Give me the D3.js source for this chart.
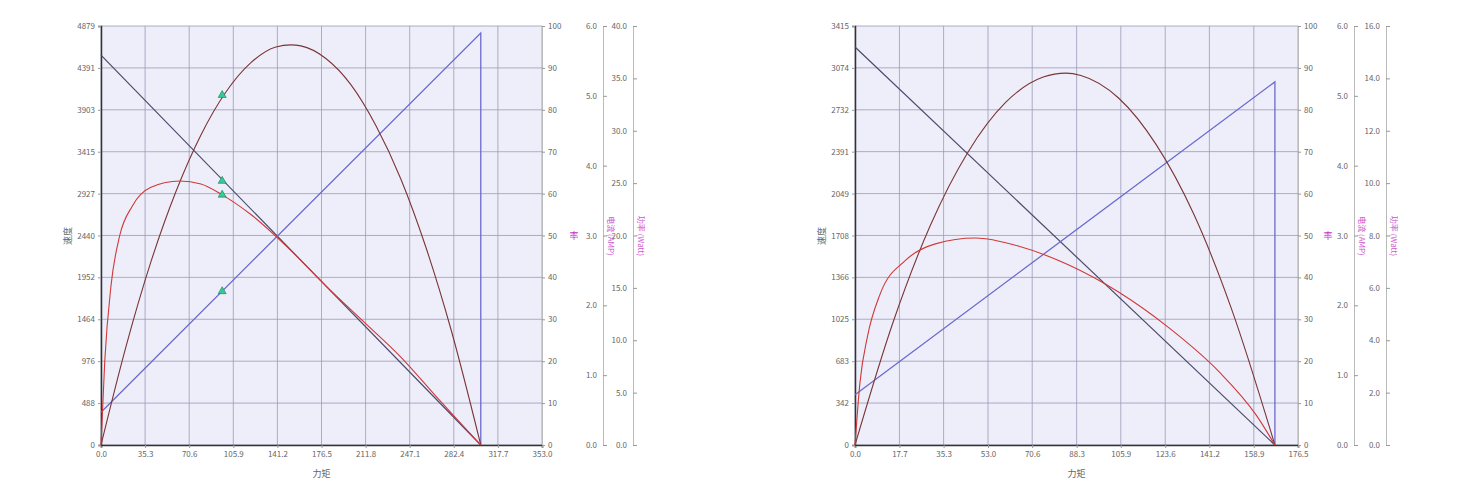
<!DOCTYPE html><html><head><meta charset="utf-8"><script src="https://cdn.jsdelivr.net/npm/d3@7"></script>
<style>body{margin:0;background:#fff}svg text{font-family:"Noto Sans CJK SC",sans-serif}</style></head><body><svg id="c" width="1476" height="492"></svg>
<script>
// Chart A
const aXTicks=["0.0","35.3","70.6","105.9","141.2","176.5","211.8","247.1","282.4","317.7","353.0"];
const aYTicks=[0,488,976,1464,1952,2440,2927,3415,3903,4391,4879];
const aSpeed=[[0,4540],[304,0]];
const aCurrent=[[0,0.47],[304,5.9],[304,0]];
const aPower=[[0,0],[20,9.4],[40,17.5],[60,24.2],[80,29.6],[100,33.7],[120,36.5],[140,38.0],[152,38.2],[160,38.1],[180,36.9],[200,34.4],[220,30.5],[240,25.4],[260,18.9],[280,11.1],[304,0]];
const aEff=[[0,0],[3,20],[8,38],[15,50],[25,57],[40,61.5],[63,63],[80,62.3],[97,59.7],[120,55],[150,47],[180,38],[210,29.5],[240,21],[270,11],[290,4.5],[304,0]];
const aMarkers={t:97,speed:3074,eff:59.7,power:33.4,current:2.2};
const aCurTicks=["0.0","1.0","2.0","3.0","4.0","5.0","6.0"];
const aPowTicks=["0.0","5.0","10.0","15.0","20.0","25.0","30.0","35.0","40.0"];
// Chart B
const bXTicks=["0.0","17.7","35.3","53.0","70.6","88.3","105.9","123.6","141.2","158.9","176.5"];
const bYTicks=[0,342,683,1025,1366,1708,2049,2391,2732,3074,3415];
const bSpeed=[[0,3244],[167.3,0]];
const bCurrent=[[0,0.72],[167.3,5.2],[167.3,0]];
const bPower=[[0,0],[15,4.64],[30,8.38],[45,11.18],[60,13.08],[75,14.05],[84,14.2],[90,14.11],[105,13.25],[120,11.47],[135,8.81],[150,5.2],[167.3,0]];
const bEff=[[0,0],[2,15],[5,26],[10,36],[20,44],[32,48],[48,49.4],[65,47.5],[85,43],[105,36.5],[125,28],[145,17.5],[160,7],[167.3,0]];
const bCurTicks=["0.0","1.0","2.0","3.0","4.0","5.0","6.0"];
const bPowTicks=["0.0","2.0","4.0","6.0","8.0","10.0","12.0","14.0","16.0"];
const effTicks=[0,10,20,30,40,50,60,70,80,90,100];

const svg=d3.select("#c");
function chart(o){
  const g=svg.append("g");
  const x=d3.scaleLinear().domain([0,+o.xt[o.xt.length-1]]).range([o.x0,o.x1]);
  const y=d3.scaleLinear().domain([0,o.yt[o.yt.length-1]]).range([445,26]);
  const ye=d3.scaleLinear().domain([0,100]).range([445,26]);
  const yc=d3.scaleLinear().domain([0,6]).range([445,26]);
  const yp=d3.scaleLinear().domain([0,+o.pt[o.pt.length-1]]).range([445,26]);
  g.append("rect").attr("x",o.x0).attr("y",26).attr("width",o.x1-o.x0).attr("height",419).attr("fill","#eeeefa");
  o.xt.forEach(t=>g.append("line").attr("x1",x(+t)).attr("x2",x(+t)).attr("y1",26).attr("y2",445).attr("stroke","#9a9ab8").attr("stroke-width",0.8));
  o.yt.forEach(t=>g.append("line").attr("x1",o.x0).attr("x2",o.x1).attr("y1",y(t)).attr("y2",y(t)).attr("stroke","#9a9ab8").attr("stroke-width",0.8));
  const fs="8px",tc="#666";
  const ax=g.append("g").attr("transform","translate(0,445)").call(d3.axisBottom(x).tickValues(o.xt.map(Number)).tickFormat((d,i)=>o.xt[i]).tickSize(3));
  const ay=g.append("g").attr("transform",`translate(${o.x0},0)`).call(d3.axisLeft(y).tickValues(o.yt).tickFormat(d3.format("d")).tickSize(3));
  const ae=g.append("g").attr("transform",`translate(${o.x1},0)`).call(d3.axisRight(ye).tickValues(effTicks).tickSize(3));
  const ac=g.append("g").attr("transform",`translate(${o.cx},0)`).call(d3.axisLeft(yc).tickValues(o.ct.map(Number)).tickFormat((d,i)=>o.ct[i]).tickSize(-4));
  const ap=g.append("g").attr("transform",`translate(${o.px},0)`).call(d3.axisLeft(yp).tickValues(o.pt.map(Number)).tickFormat((d,i)=>o.pt[i]).tickSize(-4));
  [ax,ay,ae,ac,ap].forEach(a=>{a.selectAll("text").attr("font-size",fs).attr("fill",tc);a.selectAll("line").attr("stroke","#999");a.select(".domain").attr("stroke","#bbb");});
  ax.select(".domain").attr("stroke","#333").attr("stroke-width",1.5);ay.select(".domain").attr("stroke","#333").attr("stroke-width",1.5);
  ac.selectAll("text").attr("x",-6);ap.selectAll("text").attr("x",-6);
  g.append("text").attr("x",(o.x0+o.x1)/2).attr("y",477).attr("text-anchor","middle").attr("font-size","9px").attr("fill",tc).text("力矩");
  g.append("text").attr("transform",`translate(${o.x0-30},236) rotate(-90)`).attr("text-anchor","middle").attr("font-size","9px").attr("fill",tc).text("速度");
  g.append("text").attr("x",o.ex).attr("y",239).attr("text-anchor","middle").attr("font-size","9px").attr("fill","#cc33cc").text("率");
  g.append("text").attr("transform",`translate(${o.cx+5},236) rotate(90)`).attr("text-anchor","middle").attr("font-size","8px").attr("fill","#cc55cc").text("电流 (AMP)");
  g.append("text").attr("transform",`translate(${o.px+5},236) rotate(90)`).attr("text-anchor","middle").attr("font-size","8px").attr("fill","#cc55cc").text("功率 (Watt)");
  const ln=(sy)=>d3.line().x(d=>x(d[0])).y(d=>sy(d[1]));
  const lc=(sy)=>d3.line().x(d=>x(d[0])).y(d=>sy(d[1])).curve(d3.curveMonotoneX);
  g.append("path").attr("d",ln(y)(o.sp)).attr("fill","none").attr("stroke","#4a4a6a").attr("stroke-width",1.2);
  g.append("path").attr("d",ln(yc)(o.cu)).attr("fill","none").attr("stroke","#6a6ad0").attr("stroke-width",1.3);
  g.append("path").attr("d",lc(yp)(o.pw)).attr("fill","none").attr("stroke","#7a3535").attr("stroke-width",1.1);
  g.append("path").attr("d",lc(ye)(o.ef)).attr("fill","none").attr("stroke","#d03838").attr("stroke-width",1.1);
  if(o.m){const m=o.m;[y(m.speed),ye(m.eff),yp(m.power),yc(m.current)].forEach(py=>g.append("path").attr("d",d3.symbol(d3.symbolTriangle,28)()).attr("transform",`translate(${x(m.t)},${py})`).attr("fill","#33cc99").attr("stroke","#227755").attr("stroke-width",0.6));}
}
chart({x0:101,x1:542,cx:603,px:633,ex:574,xt:aXTicks,yt:aYTicks,ct:aCurTicks,pt:aPowTicks,sp:aSpeed,cu:aCurrent,pw:aPower,ef:aEff,m:aMarkers});
chart({x0:855,x1:1298,cx:1354,px:1386,ex:1328,xt:bXTicks,yt:bYTicks,ct:bCurTicks,pt:bPowTicks,sp:bSpeed,cu:bCurrent,pw:bPower,ef:bEff});
</script></body></html>
